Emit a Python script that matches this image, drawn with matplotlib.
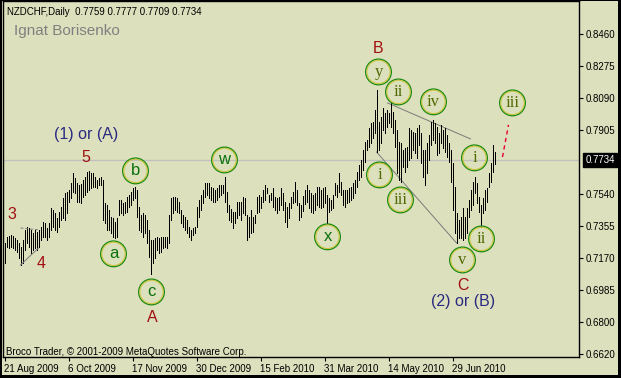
import matplotlib
matplotlib.use('Agg')
import matplotlib.pyplot as plt
import matplotlib.transforms as mtransforms
from matplotlib.patches import Rectangle

BG = '#dde0bd'
SANS = 'Liberation Sans'
SERIF = 'Liberation Serif'

# daily highs / lows, NZDCHF, 21 Aug 2009 onwards
highs = [
    .7257, .7292, .7297, .7303, .7297, .7286, .7274, .7257, .7234, .7274,
    .7332, .7349, .7343, .7332, .7315, .7332, .7320, .7332, .7349, .7377,
    .7372, .7343, .7372, .7458, .7447, .7429, .7400, .7435, .7464, .7516,
    .7545, .7550, .7562, .7602, .7659, .7631, .7602, .7590, .7596,
    .7619, .7636, .7665, .7671, .7659, .7659, .7636, .7619, .7631, .7636,
    .7619, .7487, .7475, .7447, .7406, .7400, .7377, .7400, .7504, .7504,
    .7487, .7493, .7521, .7533, .7550, .7573, .7579, .7562, .7464, .7418,
    .7429, .7418, .7389, .7332, .7274,
    .7274, .7286, .7292, .7286, .7292, .7292, .7292, .7292, .7418, .7516,
    .7521, .7521, .7516, .7493, .7447, .7418, .7406, .7389, .7349, .7332,
    .7343, .7349, .7464, .7504, .7533, .7562, .7602, .7602, .7602, .7579,
    .7573, .7562, .7573, .7590, .7590, .7590, .7636, .7550, .7475, .7452,
    .7435, .7435, .7493, .7493, .7493, .7521, .7516, .7418, .7406, .7447,
    .7406, .7418, .7521, .7533, .7521, .7562, .7590, .7573, .7533, .7545,
    .7573, .7521, .7516, .7521, .7573, .7545, .7493, .7464, .7487, .7521,
    .7550, .7607, .7562, .7487, .7475,
    .7527, .7562, .7590, .7562, .7545, .7533, .7545, .7579, .7579, .7562,
    .7573, .7579, .7533, .7516, .7504, .7533, .7602, .7590, .7659, .7607,
    .7562, .7562, .7562, .7573, .7579, .7602, .7619, .7665, .7705, .7734,
    .7792, .7838, .7849, .7918, .7947, .7953, .8022, .8137,
    .7953, .7982, .8033, .8004, .8022, .8004, .8062, .8010, .7964, .7907,
    .7838, .7832, .7792, .7803, .7809, .7918, .7907, .7895, .7890, .7918,
    .7936, .7890, .7792, .7792, .7832, .7878, .7953, .7964, .7947, .7924,
    .7890, .7936, .7907, .7918,
    .7878, .7832, .7792, .7717, .7579, .7429, .7389, .7406, .7458, .7406,
    .7458, .7504, .7562, .7607, .7636, .7602, .7521, .7475, .7516, .7562,
    .7573, .7659, .7717, .7820, .7777,
]
lows = [
    .7142, .7234, .7228, .7234, .7228, .7217, .7205, .7171, .7130, .7142,
    .7217, .7257, .7234, .7199, .7217, .7228, .7217, .7234, .7274, .7292,
    .7292, .7274, .7292, .7332, .7349, .7332, .7320, .7349, .7389, .7400,
    .7389, .7429, .7493, .7516, .7550, .7545, .7493, .7493, .7487,
    .7521, .7533, .7550, .7562, .7573, .7579, .7579, .7573, .7590, .7590,
    .7389, .7372, .7332, .7332, .7315, .7292, .7286, .7292, .7418, .7429,
    .7418, .7429, .7435, .7464, .7475, .7504, .7516, .7406, .7332, .7320,
    .7292, .7315, .7257, .7176, .7079,
    .7142, .7171, .7217, .7199, .7205, .7228, .7234, .7228, .7257, .7389,
    .7429, .7447, .7435, .7429, .7372, .7349, .7332, .7315, .7292, .7274,
    .7303, .7315, .7349, .7406, .7447, .7487, .7521, .7533, .7516, .7504,
    .7493, .7493, .7504, .7521, .7533, .7545, .7493, .7435, .7389, .7377,
    .7343, .7372, .7400, .7418, .7389, .7429, .7418, .7274, .7292, .7315,
    .7320, .7372, .7429, .7435, .7458, .7493, .7504, .7545, .7493, .7504,
    .7464, .7447, .7429, .7447, .7475, .7447, .7377, .7349, .7400, .7458,
    .7487, .7493, .7475, .7389, .7406,
    .7441, .7481, .7493, .7458, .7435, .7429, .7447, .7475, .7464, .7458,
    .7464, .7487, .7372, .7435, .7447, .7458, .7533, .7521, .7550, .7533,
    .7475, .7464, .7487, .7493, .7504, .7516, .7545, .7579, .7619, .7636,
    .7677, .7723, .7792, .7809, .7832, .7861, .7890, .7780,
    .7792, .7832, .7907, .7890, .7924, .7947, .7924, .7890, .7809, .7659,
    .7619, .7608, .7694, .7665, .7694, .7734, .7746, .7792, .7774, .7746,
    .7820, .7717, .7636, .7590, .7659, .7734, .7820, .7849, .7832, .7763,
    .7774, .7832, .7803, .7780,
    .7752, .7723, .7608, .7447, .7315, .7257, .7286, .7286, .7274, .7286,
    .7315, .7406, .7447, .7475, .7545, .7487, .7435, .7349, .7429, .7447,
    .7493, .7579, .7608, .7665, .7709,
]
assert len(highs) == len(lows)

last_bar = (0.7759, 0.7777, 0.7709, 0.7734)  # O H L C
last_close = last_bar[3]

price_ticks = [0.8460, 0.8275, 0.8090, 0.7905, 0.7540, 0.7355, 0.7170,
               0.6985, 0.6800, 0.6620]
date_labels = ['21 Aug 2009', '6 Oct 2009', '17 Nov 2009', '30 Dec 2009',
               '15 Feb 2010', '31 Mar 2010', '14 May 2010', '29 Jun 2010']
BARS_PER_TICK = 32

# wave labels (bar index, price)
wave_text = ['3', '4', '5', 'A', 'B', 'C']
wave_x = [3.5, 18.5, 40.5, 74, 187, 229]
wave_y = [0.7418, 0.7136, 0.7751, 0.6826, 0.8372, 0.7015]

degree_text = ['(1) or (A)', '(2) or (B)']
degree_x = [41, 229.5]
degree_y = [0.7878, 0.6918]

circ_text = ['a', 'b', 'c', 'w', 'x', 'y', 'i', 'ii', 'iii', 'iv', 'v',
             'i', 'ii', 'iii']
circ_x = [54.5, 65.5, 73.5, 110, 161.5, 187, 187.5, 197, 198, 214.5, 229,
          235, 238.5, 254]
circ_y = [0.7194, 0.7671, 0.6975, 0.7734, 0.7292, 0.8240, 0.7648, 0.8125,
          0.7504, 0.8068, 0.7159, 0.7746, 0.7280, 0.8062]

fig = plt.figure(figsize=(6.21, 3.78), dpi=100, facecolor=BG)
ax = fig.add_axes([3 / 621, 1 - 357 / 378, 576 / 621, 356 / 378])
ax.set_facecolor(BG)

ax.axhline(last_close, color='#c0c0c0', lw=0.9, zorder=0)
ax.vlines(range(len(highs)), lows, highs, colors='black', lw=0.72,
          antialiased=False, zorder=2)

# trend lines
ax.plot([191.5, 233], [0.8062, 0.7855], color='#7a7a7a', lw=0.7, zorder=1)
ax.plot([186, 226], [0.7780, 0.7257], color='#7a7a7a', lw=0.7, zorder=1)
ax.plot([8, 17], [0.7343, 0.7332], color='#7a7a7a', lw=0.7, ls=(0, (3, 2)))
ax.plot([8, 17], [0.7130, 0.7228], color='#7a7a7a', lw=0.7)
ax.plot([249, 252], [0.7751, 0.7936], color='#e8003a', lw=1.0, ls=(0, (3, 2.5)))

for t, x, y in zip(wave_text, wave_x, wave_y):
    ax.text(x, y, t, ha='center', va='center', color='#a01010',
            fontsize=11.5, family=SANS, zorder=5)
for t, x, y in zip(degree_text, degree_x, degree_y):
    ax.text(x, y, t, ha='center', va='center', color='#2a2a80',
            fontsize=11.5, family=SANS, zorder=5)

ax.scatter(circ_x, circ_y, s=340, facecolors='none', edgecolors='#1a8a1a',
           linewidths=1.0, zorder=4)
ax.scatter(circ_x, circ_y, s=285, facecolors='none', edgecolors='#c8c43a',
           linewidths=0.8, zorder=4)
for t, x, y in zip(circ_text, circ_x, circ_y):
    if t in ('a', 'b', 'c', 'w', 'x'):
        ax.text(x, y, t, ha='center', va='center', color='#0a700a',
                fontsize=12, family=SANS, zorder=5)
    else:
        ax.text(x, y, t, ha='center', va='center', color='#4e6a00',
                fontsize=12, family=SERIF, zorder=5)

ax.set_xlim(-0.75, 287.25)
ax.set_ylim(0.6601, 0.8648)

ax.yaxis.tick_right()
ax.set_yticks(price_ticks)
ax.set_yticklabels(['%.4f' % p for p in price_ticks])
ax.set_xticks([k * BARS_PER_TICK for k in range(len(date_labels))])
ax.set_xticklabels(date_labels)
ax.tick_params(axis='both', direction='out', length=3, width=0.8,
               labelsize=7, pad=2, colors='black')
for lab in ax.get_xticklabels() + ax.get_yticklabels():
    lab.set_family(SANS)
for lab in ax.get_xticklabels():
    lab.set_ha('left')
for s in ax.spines.values():
    s.set_color('black')
    s.set_linewidth(1.0)

# current price box
trans = mtransforms.blended_transform_factory(ax.transAxes, ax.transData)
ax.annotate('%.4f' % last_close, xy=(1.0, last_close), xycoords=trans,
            xytext=(4.5, 0), textcoords='offset points', va='center',
            ha='left', color='white', fontsize=7, family=SANS,
            bbox=dict(boxstyle='square,pad=0.25', fc='black', ec='black'),
            annotation_clip=False)

fig.text(7 / 621, 1 - 12 / 378,
         'NZDCHF,Daily  %.4f %.4f %.4f %.4f' % last_bar,
         fontsize=7, family=SANS, va='center', color='black')
fig.text(14 / 621, 1 - 31 / 378, 'Ignat Borisenko', fontsize=11,
         family=SANS, va='center', color='#808080')
fig.text(6 / 621, 1 - 352 / 378,
         'Broco Trader, \u00a9 2001-2009 MetaQuotes Software Corp.',
         fontsize=7, family=SANS, va='center', color='black')

# window frame
for r in [(0, 0, 1, 3 / 378), (618 / 621, 0, 3 / 621, 1),
          (0, 1 - 1 / 378, 1, 1 / 378), (0, 0, 2 / 621, 1)]:
    fig.add_artist(Rectangle(r[:2], r[2], r[3], transform=fig.transFigure,
                             color='black', lw=0))

fig.savefig('out.png', dpi=100, facecolor=BG)
